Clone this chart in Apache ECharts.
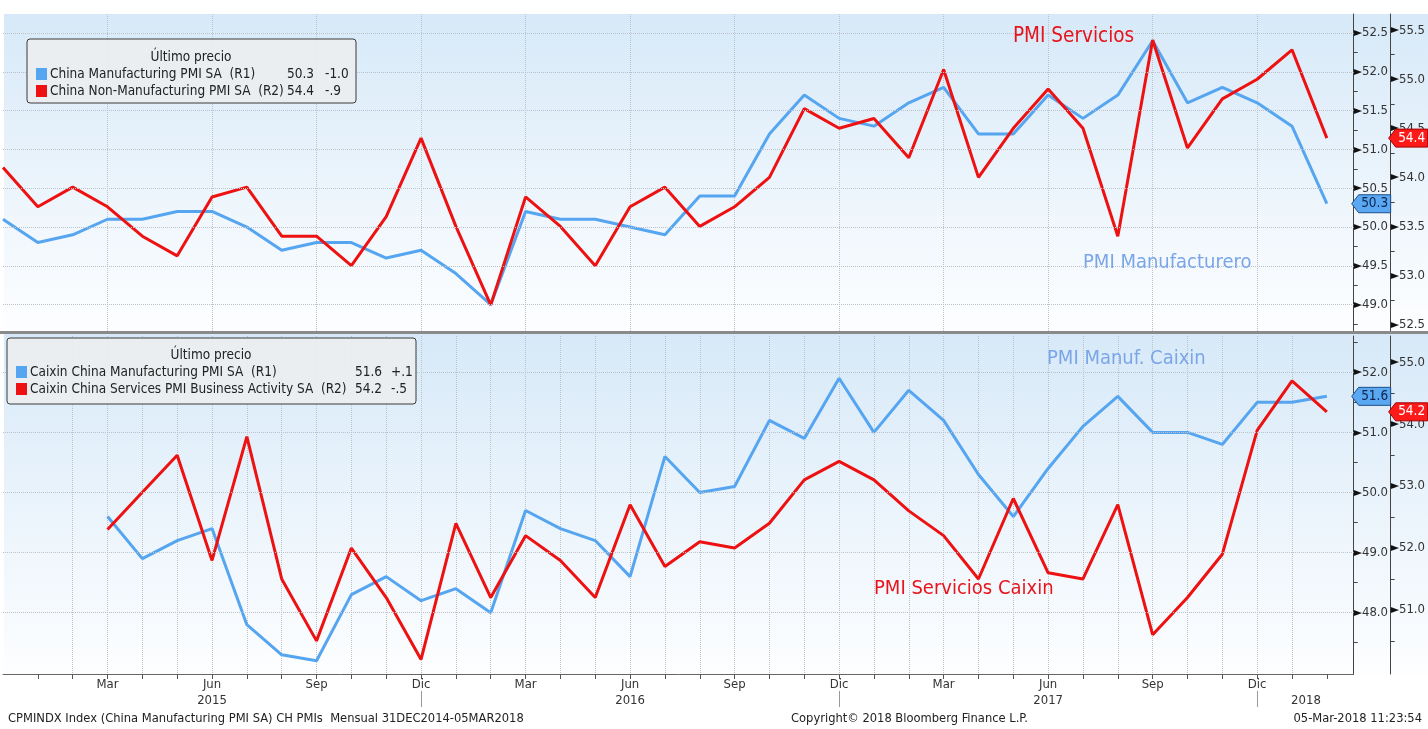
<!DOCTYPE html>
<html>
<head>
<meta charset="utf-8">
<script src="https://cdn.jsdelivr.net/npm/echarts@6/dist/echarts.min.js"></script>
<style>
  html, body { margin: 0; padding: 0; background: #fff; }
  #chart { width: 1428px; height: 729px; }
</style>
</head>
<body>
<div id="chart"></div>
<script>
const FONT = '"DejaVu Sans Condensed", "DejaVu Sans", sans-serif'

// month index 0 = Dic 2014 ... 38 = Feb 2018
const monthNames = ['Dic', 'Ene', 'Feb', 'Mar', 'Abr', 'May', 'Jun', 'Jul', 'Ago', 'Sep', 'Oct', 'Nov']
const quarterTicks = [3, 6, 9, 12, 15, 18, 21, 24, 27, 30, 33, 36]
const monthTicks = [1, 2, 3, 4, 5, 6, 7, 8, 9, 10, 11, 12, 13, 14, 15, 16, 17, 18, 19, 20,
    21, 22, 23, 24, 25, 26, 27, 28, 29, 30, 31, 32, 33, 34, 35, 36, 37, 38]
const yearLabels = ['2015', '2016', '2017', '2018']
const yearPos = [6, 18, 30, 37.4]
const yearBreaks = [12, 24, 36]

// panel 1: official PMIs, from Dic 2014
const chinaMfg = [50.1, 49.8, 49.9, 50.1, 50.1, 50.2, 50.2, 50.0, 49.7, 49.8, 49.8, 49.6,
    49.7, 49.4, 49.0, 50.2, 50.1, 50.1, 50.0, 49.9, 50.4, 50.4, 51.2, 51.7,
    51.4, 51.3, 51.6, 51.8, 51.2, 51.2, 51.7, 51.4, 51.7, 52.4, 51.6, 51.8,
    51.6, 51.3, 50.3]
const chinaNonMfg = [54.1, 53.7, 53.9, 53.7, 53.4, 53.2, 53.8, 53.9, 53.4, 53.4, 53.1, 53.6,
    54.4, 53.5, 52.7, 53.8, 53.5, 53.1, 53.7, 53.9, 53.5, 53.7, 54.0, 54.7,
    54.5, 54.6, 54.2, 55.1, 54.0, 54.5, 54.9, 54.5, 53.4, 55.4, 54.3, 54.8,
    55.0, 55.3, 54.4]

// panel 2: Caixin PMIs, from Mar 2015
const caixinStart = 3
const caixinMfg = [49.6, 48.9, 49.2, 49.4, 47.8, 47.3, 47.2, 48.3, 48.6, 48.2,
    48.4, 48.0, 49.7, 49.4, 49.2, 48.6, 50.6, 50.0, 50.1, 51.2, 50.9, 51.9,
    51.0, 51.7, 51.2, 50.3, 49.6, 50.4, 51.1, 51.6, 51.0, 51.0, 50.8, 51.5,
    51.5, 51.6]
const caixinSvc = [52.3, 52.9, 53.5, 51.8, 53.8, 51.5, 50.5, 52.0, 51.2, 50.2,
    52.4, 51.2, 52.2, 51.8, 51.2, 52.7, 51.7, 52.1, 52.0, 52.4, 53.1, 53.4,
    53.1, 52.6, 52.2, 51.5, 52.8, 51.6, 51.5, 52.7, 50.6, 51.2, 51.9, 53.9,
    54.7, 54.2]

// right axis ticks
const topR1Labels = [49.0, 49.5, 50.0, 50.5, 51.0, 51.5, 52.0, 52.5]
const topR1Minor = [48.75, 49.25, 49.75, 50.25, 50.75, 51.25, 51.75, 52.25]
const topR2Labels = [52.5, 53.0, 53.5, 54.0, 54.5, 55.0, 55.5]
const topR2Minor = [52.75, 53.25, 53.75, 54.25, 54.75, 55.25]
const botR1Labels = [48.0, 49.0, 50.0, 51.0, 52.0]
const botR1Minor = [47.5, 48.5, 49.5, 50.5, 51.5, 52.5]
const botR2Labels = [51.0, 52.0, 53.0, 54.0, 55.0]
const botR2Minor = [50.5, 51.5, 52.5, 53.5, 54.5]

// legends
const topNames = ['China Manufacturing PMI SA  (R1)', 'China Non-Manufacturing PMI SA  (R2)']
const topLast = ['50.3', '54.4']
const topChg = ['-1.0', '-.9']
const botNames = ['Caixin China Manufacturing PMI SA  (R1)', 'Caixin China Services PMI Business Activity SA  (R2)']
const botLast = ['51.6', '54.2']
const botChg = ['+.1', '-.5']

const BLUE = '#55a5f0'
const RED = '#ee1111'
const X_MAX = 38.77

const chart = echarts.init(document.getElementById('chart'))

const toPairs = (arr, start) => arr.map((v, i) => [start + i, v])

const xBase = (gridIndex) => ({
    type: 'value',
    gridIndex: gridIndex,
    min: 0,
    max: X_MAX,
    interval: 3,
    axisLine: { show: false, onZero: false },
    axisTick: { show: false },
    axisLabel: { show: false },
    splitLine: {
        show: true,
        showMinLine: false,
        showMaxLine: false,
        lineStyle: { type: 'dotted', color: '#bcc2c8', width: 1 }
    }
})

const rightAxis = (gridIndex, offset, min, max, labels, minor) => ({
    type: 'value',
    gridIndex: gridIndex,
    position: 'right',
    offset: offset,
    min: min,
    max: max,
    axisLine: { show: true, onZero: false, lineStyle: { color: '#444', width: 1 } },
    axisTick: { show: true, customValues: minor, length: 4, lineStyle: { color: '#444' } },
    axisLabel: {
        customValues: labels,
        margin: 0,
        formatter: (v) => '{t|►}{v|' + v.toFixed(1) + '}',
        rich: {
            t: { fontSize: 12, color: '#111', fontFamily: FONT },
            v: { fontSize: 13, color: '#333', fontFamily: FONT }
        }
    },
    splitLine: { show: false }
})

const hLines = (xi, yi, data, values) => ({
    type: 'line',
    xAxisIndex: xi,
    yAxisIndex: yi,
    data: data,
    z: 1,
    silent: true,
    showSymbol: false,
    lineStyle: { opacity: 0 },
    markLine: {
        silent: true,
        symbol: 'none',
        label: { show: false },
        lineStyle: { type: 'dotted', color: '#bcc2c8', width: 1 },
        data: values.map(v => ({ yAxis: v }))
    }
})

const lineSeries = (name, xi, yi, data, color) => ({
    name: name,
    type: 'line',
    xAxisIndex: xi,
    yAxisIndex: yi,
    data: data,
    z: 3,
    showSymbol: false,
    lineStyle: { color: color, width: 3 },
    itemStyle: { color: color }
})

chart.setOption({
    animation: false,
    grid: [
        { left: 3, right: 74, top: 14, height: 317 },
        { left: 3, right: 74, top: 336, height: 338 }
    ],
    xAxis: [
        xBase(0),
        Object.assign(xBase(1), {
            axisLine: { show: true, onZero: false, lineStyle: { color: '#666', width: 1 } },
            axisTick: { show: true, customValues: monthTicks, length: 5, lineStyle: { color: '#555' } },
            axisLabel: {
                show: true,
                customValues: quarterTicks,
                margin: 4,
                fontSize: 13,
                color: '#333',
                fontFamily: FONT,
                formatter: (v) => monthNames[Math.round(v) % 12]
            }
        }),
        {
            type: 'value',
            gridIndex: 1,
            position: 'bottom',
            offset: 17,
            min: 0,
            max: X_MAX,
            axisLine: { show: false, onZero: false },
            axisTick: { show: true, customValues: yearBreaks, length: 16, lineStyle: { color: '#999' } },
            axisLabel: {
                customValues: yearPos,
                margin: 3,
                fontSize: 13,
                color: '#333',
                fontFamily: FONT,
                formatter: (v) => yearLabels[yearPos.indexOf(v)]
            },
            splitLine: { show: false }
        }
    ],
    yAxis: [
        rightAxis(0, 0, 48.66, 52.745, topR1Labels, topR1Minor),
        rightAxis(0, 37, 52.434, 55.665, topR2Labels, topR2Minor),
        rightAxis(1, 0, 46.98, 52.604, botR1Labels, botR1Minor),
        rightAxis(1, 37, 49.965, 55.425, botR2Labels, botR2Minor)
    ],
    series: [
        hLines(0, 0, toPairs(chinaMfg, 0), topR1Labels),
        hLines(1, 2, toPairs(caixinMfg, caixinStart), botR1Labels),
        lineSeries('China Manufacturing PMI SA', 0, 0, toPairs(chinaMfg, 0), BLUE),
        lineSeries('China Non-Manufacturing PMI SA', 0, 1, toPairs(chinaNonMfg, 0), RED),
        lineSeries('Caixin China Manufacturing PMI SA', 1, 2, toPairs(caixinMfg, caixinStart), BLUE),
        lineSeries('Caixin China Services PMI Business Activity SA', 1, 3, toPairs(caixinSvc, caixinStart), RED)
    ]
})

// ---- decorations: backgrounds, legends, notes, end tags ----
const grad = () => new echarts.graphic.LinearGradient(0, 0, 0, 1, [
    { offset: 0, color: '#d7e9f8' },
    { offset: 1, color: '#fdfeff' }
])

const txt = (x, y, text, size, color, align) => ({
    type: 'text',
    z: 50,
    silent: true,
    style: {
        x: x, y: y, text: text,
        fontSize: size, fontFamily: FONT,
        fill: color, align: align || 'left', verticalAlign: 'middle'
    }
})

const legendBox = (x, y, w, h, titleX, titleY, rowY, names, last, chg, valX, chgX) => {
    const els = [{
        type: 'rect', z: 40, silent: true,
        shape: { x: x, y: y, width: w, height: h, r: 3 },
        style: { fill: 'rgba(236,238,240,0.92)', stroke: '#3a3a3a', lineWidth: 1 }
    }, txt(titleX, titleY, 'Último precio', 13.5, '#222', 'center')]
    const colors = [BLUE, RED]
    names.forEach((n, i) => {
        els.push({
            type: 'rect', z: 50, silent: true,
            shape: { x: x + 9, y: rowY[i] - 6, width: 11, height: 12 },
            style: { fill: colors[i] }
        })
        els.push(txt(x + 23, rowY[i], n, 13.5, '#222'))
        els.push(txt(valX, rowY[i], last[i], 13.5, '#222', 'right'))
        els.push(txt(chgX, rowY[i], chg[i], 13.5, '#222'))
    })
    return els
}

const tag = (x, y, text, fill, stroke, color) => ({
    type: 'group', z: 60, silent: true,
    children: [{
        type: 'polygon', z: 60,
        shape: { points: [[x - 2, y], [x + 5, y - 9], [x + 37, y - 9], [x + 37, y + 9], [x + 5, y + 9]] },
        style: { fill: fill, stroke: stroke, lineWidth: 1 }
    }, {
        type: 'text', z: 61,
        style: {
            x: x + 21, y: y, text: text, fontSize: 13.5, fontFamily: FONT,
            fill: color, align: 'center', verticalAlign: 'middle'
        }
    }]
})

const axisX = chart.convertToPixel({ xAxisIndex: 0 }, X_MAX)
const yTopMfg = chart.convertToPixel({ yAxisIndex: 0 }, chinaMfg[chinaMfg.length - 1])
const yTopSvc = chart.convertToPixel({ yAxisIndex: 1 }, chinaNonMfg[chinaNonMfg.length - 1])
const yBotMfg = chart.convertToPixel({ yAxisIndex: 2 }, caixinMfg[caixinMfg.length - 1])
const yBotSvc = chart.convertToPixel({ yAxisIndex: 3 }, caixinSvc[caixinSvc.length - 1])

const graphics = [
    { type: 'rect', z: -10, silent: true, shape: { x: 4, y: 14, width: 1424, height: 317 }, style: { fill: grad() } },
    { type: 'rect', z: -10, silent: true, shape: { x: 4, y: 334, width: 1424, height: 340 }, style: { fill: grad() } },
    { type: 'rect', z: 30, silent: true, shape: { x: 0, y: 331, width: 1428, height: 3 }, style: { fill: '#8a8a8a' } },

    ...legendBox(27, 39, 329, 64, 191, 57, [74, 91], topNames, topLast, topChg, 314, 325),
    ...legendBox(7, 338, 409, 66, 211, 355, [372, 389], botNames, botLast, botChg, 382, 391),

    txt(1013, 37, 'PMI Servicios', 20.5, '#e8141c'),
    txt(1083, 263, 'PMI Manufacturero', 20, '#7aa6e8'),
    txt(1047, 359, 'PMI Manuf. Caixin', 20, '#7aa6e8'),
    txt(874, 589, 'PMI Servicios Caixin', 20, '#e8141c'),

    tag(axisX, yTopMfg, topLast[0], '#5aa8f2', '#1d4f8a', '#0d2550'),
    tag(axisX + 37, yTopSvc, topLast[1], '#ff1a1a', '#a00000', '#ffffff'),
    tag(axisX, yBotMfg, botLast[0], '#5aa8f2', '#1d4f8a', '#0d2550'),
    tag(axisX + 37, yBotSvc, botLast[1], '#ff1a1a', '#a00000', '#ffffff'),

    txt(8, 719, 'CPMINDX Index (China Manufacturing PMI SA) CH PMIs  Mensual 31DEC2014-05MAR2018', 12.8, '#222'),
    txt(791, 719, 'Copyright© 2018 Bloomberg Finance L.P.', 12.8, '#222'),
    txt(1422, 719, '05-Mar-2018 11:23:54', 12.8, '#222', 'right')
]

chart.setOption({ graphic: graphics })
</script>
</body>
</html>
